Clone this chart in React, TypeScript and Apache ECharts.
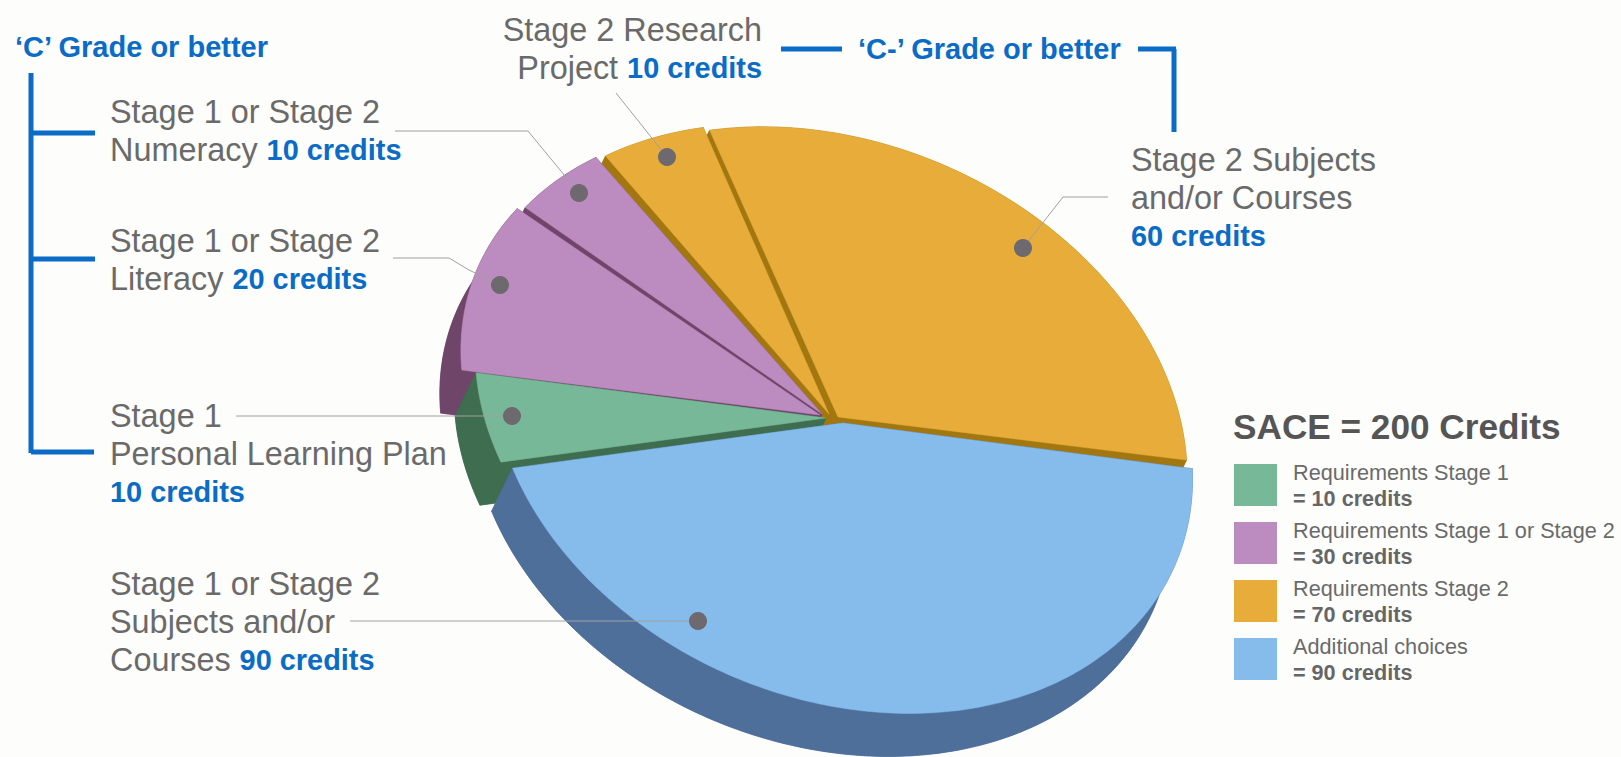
import React, { useEffect, useRef } from "react";
import * as echarts from "echarts";

// ---- data ----
const sliceNames = ["Stage 1 or Stage 2 Subjects and/or Courses", "Stage 1 Personal Learning Plan", "Stage 1 or Stage 2 Literacy", "Stage 1 or Stage 2 Numeracy", "Stage 2 Research Project", "Stage 2 Subjects and/or Courses"];
const sliceValues = [90, 10, 20, 10, 10, 60];
const sliceGroups = [3, 0, 1, 1, 2, 2];
const legendNames = ["Requirements Stage 1", "Requirements Stage 1 or Stage 2", "Requirements Stage 2", "Additional choices"];
const legendCredits = [10, 30, 70, 90];

// ---- styles / geometry ----
const topColors = ["#76b897", "#bc8bbf", "#e7ac3a", "#85bceb"];
const sideColors = ["#3f6d50", "#6f4569", "#a2770f", "#4f6f9b"];
const START_DEG = -20.7;
const ROT = (22.7 * Math.PI) / 180;
const CENTER = [832, 419];
const DEPTH = [-21, 43];
const sliceShape = [
  { apex: [843, 423], off: [10, 4], a: 362, b: 276, pad: 0, turn: 1, order: 5 },
  { apex: [826, 418], off: [0, 0], a: 370, b: 268, pad: 0, turn: 0, order: 4 },
  { apex: [820, 415], off: [-3, -1], a: 382, b: 276, pad: 0, turn: 0, order: 3 },
  { apex: [822, 414], off: [3, 0], a: 382, b: 276, pad: 0.6, turn: 0, order: 2 },
  { apex: [829, 414], off: [5, -2], a: 376, b: 276, pad: 0, turn: 0, order: 1 },
  { apex: [838, 417], off: [1, -1], a: 366, b: 276, pad: 0.4, turn: 0.4, order: 0 },
];

const FONT = "'Liberation Sans', Arial, sans-serif";
const GREY = "#6a6a6a";
const BLUE = "#0a6cc6";

const callouts = [
  { text: "{g|Stage 1 or Stage 2}\n{g|Numeracy }{b|10 credits}", x: 110, y: 112 },
  { text: "{g|Stage 1 or Stage 2}\n{g|Literacy }{b|20 credits}", x: 110, y: 241 },
  { text: "{g|Stage 1}\n{g|Personal Learning Plan}\n{b|10 credits}", x: 110, y: 416 },
  { text: "{g|Stage 1 or Stage 2}\n{g|Subjects and/or}\n{g|Courses }{b|90 credits}", x: 110, y: 584 },
  { text: "{g|Stage 2 Research}\n{g|Project }{b|10 credits}", x: 762, y: 30, align: "right" },
  { text: "{g|Stage 2 Subjects}\n{g|and/or Courses}\n{b|60 credits}", x: 1131, y: 160 },
];
const grades = [
  { text: "\u2018C\u2019 Grade or better", x: 15, y: 47 },
  { text: "\u2018C-\u2019 Grade or better", x: 858, y: 49 },
];
const bracketLines = [
  [[31, 73], [31, 453]],
  [[31, 133], [95, 133]],
  [[31, 259], [95, 259]],
  [[31, 452], [94, 452]],
  [[781, 49], [842, 49]],
  [[1138, 49], [1176, 49]],
  [[1174, 49], [1174, 132]],
];
const leaders = [
  [[395, 131], [528, 131], [579, 193]],
  [[616, 93], [667, 157]],
  [[393, 258], [449, 258], [469, 270], [500, 285]],
  [[236, 416], [512, 416]],
  [[350, 621], [698, 621]],
  [[1108, 197], [1063, 197], [1023, 248]],
];

function arcPoint(s: any, tDeg: number) {
  const t = (tDeg * Math.PI) / 180;
  const u = s.a * Math.cos(t);
  const v = s.b * Math.sin(t);
  return [
    CENTER[0] + s.off[0] + u * Math.cos(ROT) - v * Math.sin(ROT),
    CENTER[1] + s.off[1] + u * Math.sin(ROT) + v * Math.cos(ROT),
  ];
}

const total = sliceValues.reduce((p, c) => p + c, 0);
const sliceStarts = sliceValues.map((_, i) => sliceValues.slice(0, i).reduce((p, c) => p + c, 0));
const shift = (p: number[]) => [p[0] + DEPTH[0], p[1] + DEPTH[1]];

function renderSlice(_params: any, api: any) {
  const value = api.value(0);
  const start = api.value(1);
  const idx = api.value(2);
  const s = sliceShape[idx];
  const group = sliceGroups[idx];
  const t0 = START_DEG + s.turn + (start / total) * 360 + s.pad;
  const t1 = START_DEG + s.turn + ((start + value) / total) * 360 - s.pad;
  const arc: number[][] = [];
  const n = Math.max(8, Math.round(t1 - t0));
  for (let i = 0; i <= n; i++) arc.push(arcPoint(s, t0 + ((t1 - t0) * i) / n));
  const top = [s.apex, ...arc];
  const low = top.map(shift);
  const band = [...arc, ...arc.map(shift).reverse()];
  const e0 = [s.apex, arc[0], shift(arc[0]), shift(s.apex)];
  const e1 = [s.apex, arc[n], shift(arc[n]), shift(s.apex)];
  const side = sideColors[group];
  const poly = (points: number[][], fill: string, z2: number) => ({
    type: "polygon",
    shape: { points },
    z2,
    silent: true,
    style: { fill, stroke: fill, lineWidth: 0.5 },
  });
  return {
    type: "group",
    children: [
      poly(low, side, 1 + s.order),
      poly(band, side, 1 + s.order),
      poly(e0, side, 1 + s.order),
      poly(e1, side, 1 + s.order),
      poly(top, topColors[group], 20 + s.order),
    ],
  };
}

export default function App() {
  const ref = useRef<HTMLDivElement>(null);
  useEffect(() => {
    document.body.style.margin = "0";
    const chart = echarts.init(ref.current!, undefined, { renderer: "svg" });
    const series = legendNames.map((name, g) => ({
      type: "custom",
      name,
      coordinateSystem: "none",
      renderItem: renderSlice,
      itemStyle: { color: topColors[g] },
      data: sliceValues
        .map((v, i) => ({ name: sliceNames[i], value: [v, sliceStarts[i], i], g: sliceGroups[i] }))
        .filter((d) => d.g === g)
        .map((d) => ({ name: d.name, value: d.value })),
    }));
    const graphic: any[] = [];
    bracketLines.forEach((pts) => {
      graphic.push({
        type: "polyline",
        shape: { points: pts },
        style: { stroke: BLUE, lineWidth: 5, fill: "none" },
        z: 5,
      });
    });
    leaders.forEach((pts) => {
      graphic.push({
        type: "polyline",
        shape: { points: pts },
        style: { stroke: "#a0a0a0", lineWidth: 1, fill: "none" },
        z: 5,
      });
      const end = pts[pts.length - 1];
      graphic.push({
        type: "circle",
        shape: { cx: end[0], cy: end[1], r: 9 },
        style: { fill: "#6d696e" },
        z: 6,
      });
    });
    callouts.forEach((c) => {
      graphic.push({
        type: "text",
        x: c.x,
        y: c.y - 19,
        z: 7,
        style: {
          text: c.text,
          align: c.align || "left",
          verticalAlign: "top",
          rich: {
            g: { fontFamily: FONT, fontSize: 32.4, fill: GREY, color: GREY, lineHeight: 38 },
            b: { fontFamily: FONT, fontSize: 28.9, fontWeight: "bold", fill: BLUE, color: BLUE, lineHeight: 38 },
          },
        },
      });
    });
    grades.forEach((c) => {
      graphic.push({
        type: "text",
        x: c.x,
        y: c.y,
        z: 7,
        style: {
          text: c.text,
          fontFamily: FONT,
          fontSize: 29,
          fontWeight: "bold",
          fill: BLUE,
          verticalAlign: "middle",
        },
      });
    });
    graphic.push({
      type: "text",
      x: 1233,
      y: 426,
      z: 7,
      style: {
        text: "SACE = 200 Credits",
        fontFamily: FONT,
        fontSize: 35.2,
        fontWeight: "bold",
        fill: "#555555",
        verticalAlign: "middle",
      },
    });
    chart.setOption({
      animation: false,
      backgroundColor: "#fdfdfc",
      legend: {
        orient: "vertical",
        left: 1234,
        top: 461,
        padding: 0,
        itemWidth: 43,
        itemHeight: 42,
        itemGap: 10,
        icon: "rect",
        selectedMode: false,
        data: legendNames,
        formatter: (name: string) => {
          const i = legendNames.indexOf(name);
          return `{a|${name}}\n{b|= ${legendCredits[i]} credits}`;
        },
        textStyle: {
          rich: {
            a: { fontFamily: FONT, fontSize: 21.7, color: GREY, lineHeight: 26, padding: [0, 0, 0, 11] },
            b: { fontFamily: FONT, fontSize: 21.6, fontWeight: "bold", color: "#666666", lineHeight: 26, padding: [0, 0, 0, 11] },
          },
        },
      },
      series,
      graphic,
    });
    return () => chart.dispose();
  }, []);
  return <div ref={ref} style={{ width: 1621, height: 757 }} />;
}
